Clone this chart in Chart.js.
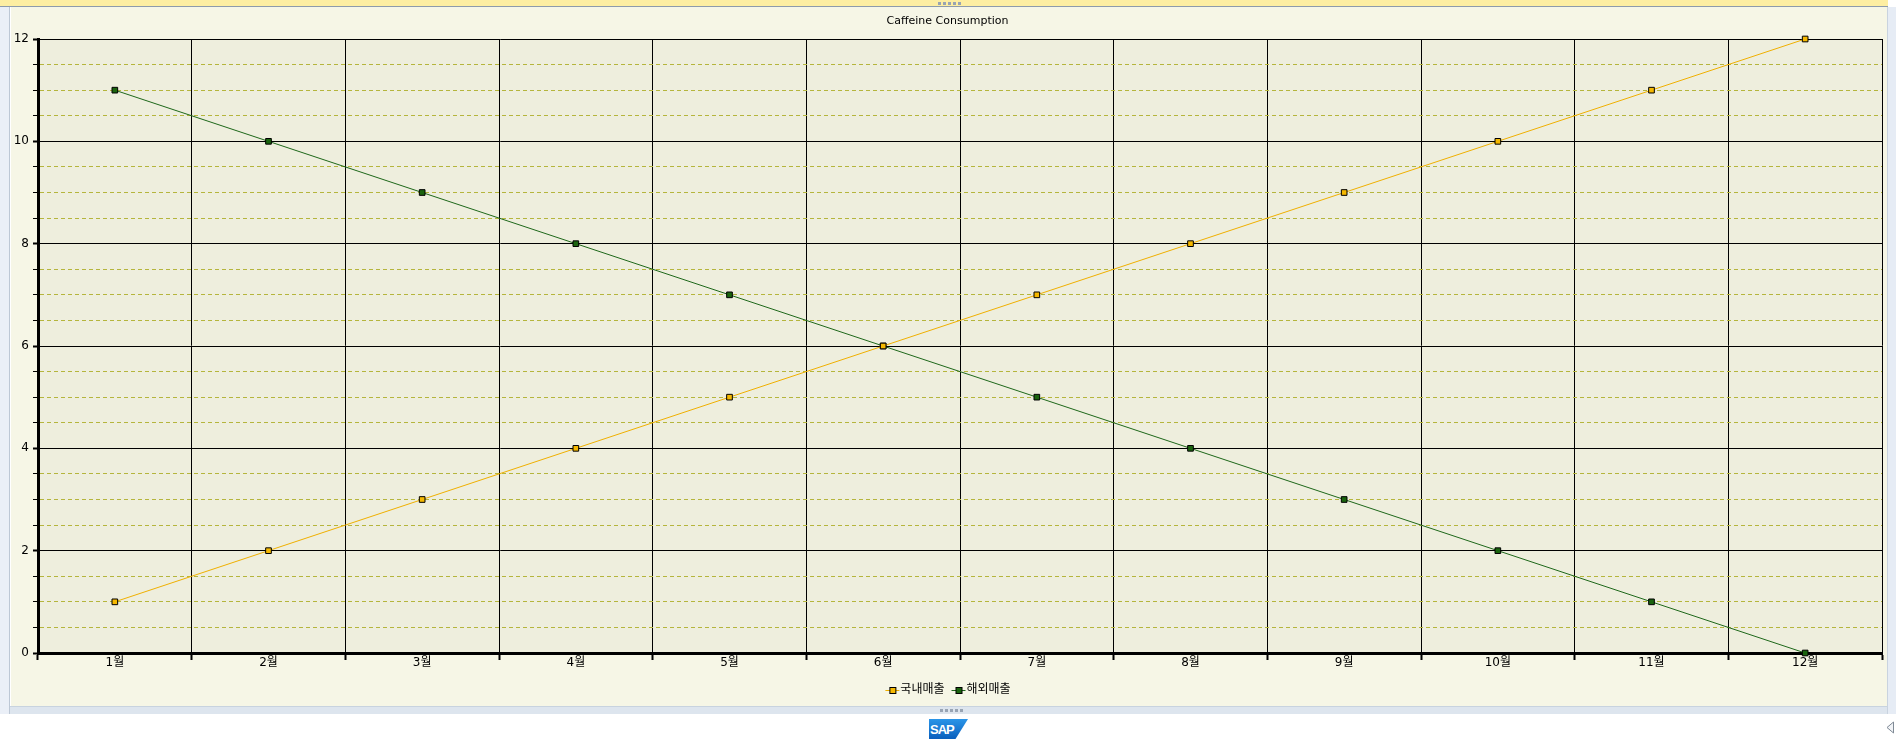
<!DOCTYPE html>
<html>
<head>
<meta charset="utf-8">
<script src="https://cdn.jsdelivr.net/npm/chart.js@4.4.0/dist/chart.umd.min.js"></script>
<style>
html,body{margin:0;padding:0;background:#fff;width:1904px;height:739px;overflow:hidden;position:relative}
#topbar{position:absolute;left:0;top:0;width:1888px;height:6px;background:#fdeea2;border-bottom:1px solid #8d9bab}
#leftbar{position:absolute;left:0;top:7px;width:9px;height:707px;background:#eaeff7;border-right:1px solid #bcc7d5}
#rightbar{position:absolute;left:1887px;top:7px;width:8px;height:707px;background:#e6ecf5;border-left:1px solid #c9d3df}
#panel{position:absolute;left:11px;top:7px;width:1876px;height:699px;background:#f6f6e6}
#bottombar{position:absolute;left:10px;top:706px;width:1877px;height:8px;background:#dde5ee;border-top:1px solid #c8d3df;box-sizing:border-box}
.grip{position:absolute;display:flex;gap:2px}
.grip span{width:3px;height:3px;background:#98a4b3}
#sap{position:absolute;left:929px;top:719px;width:39px;height:20px;background:linear-gradient(#2a95e8,#0a5fbd);clip-path:polygon(0 0,100% 0,68% 100%,0 100%);color:#fff;font:bold 13px "Liberation Sans",sans-serif;line-height:21px;padding-left:1px;box-sizing:border-box;letter-spacing:-1px}
#tri{position:absolute;left:1886px;top:721px}
</style>
</head>
<body>
<div id="topbar"></div>
<div class="grip" style="left:938px;top:2px"><span></span><span></span><span></span><span></span><span></span></div>
<div id="leftbar"></div>
<div id="rightbar"></div>
<div id="panel"><canvas id="chart" width="1876" height="699"></canvas></div>
<div id="bottombar"></div>
<div class="grip" style="left:940px;top:709px"><span></span><span></span><span></span><span></span><span></span></div>
<div id="sap">SAP</div>
<svg id="tri" width="9" height="13"><polygon points="1,6.5 7.5,1 7.5,12" fill="#f2f4f7" stroke="#7f8a96" stroke-width="1"/></svg>
<script>
const months = ['1월','2월','3월','4월','5월','6월','7월','8월','9월','10월','11월','12월'];
const seriesNames = ['국내매출','해외매출'];
const domestic = [1,2,3,4,5,6,7,8,9,10,11,12];
const overseas = [11,10,9,8,7,6,5,4,3,2,1,0];
const yMin = 0, yMax = 12, yMinorStep = 0.5, yLabelStep = 2;
const LINE = ['#f0b000','#1e681a'];
const FILL = ['#f5b800','#1a640e'];

Chart.defaults.font.family = '"DejaVu Sans", "Noto Sans CJK KR", sans-serif';
Chart.defaults.color = '#000';

function legendMark(i){
  const c=document.createElement('canvas'); c.width=30; c.height=12;
  const g=c.getContext('2d');
  g.strokeStyle=LINE[i]; g.lineWidth=1;
  g.beginPath(); g.moveTo(11,6.5); g.lineTo(25,6.5); g.stroke();
  g.fillStyle=FILL[i]; g.fillRect(16,4,5,5);
  g.strokeStyle='#000'; g.strokeRect(15.5,3.5,6,6);
  return c;
}

const plotBg = {id:'plotBg', beforeDraw(chart){
  const {ctx, chartArea:a} = chart;
  ctx.save(); ctx.fillStyle='#eeeedd';
  ctx.fillRect(a.left, a.top, a.right-a.left, a.bottom-a.top);
  ctx.restore();
}};

const isMajor = c => c.tick && c.tick.value % yLabelStep === 0;

function ds(i, data){
  return {label:seriesNames[i], data, borderColor:LINE[i], backgroundColor:FILL[i], borderWidth:1,
    pointStyle:'rect', pointRadius:4, pointHoverRadius:4, pointBorderColor:'#000', pointBorderWidth:1,
    pointBackgroundColor:FILL[i], tension:0, clip:false};
}

new Chart(document.getElementById('chart'), {
  type:'line',
  data:{labels:months, datasets:[ds(0,domestic), ds(1,overseas)]},
  options:{
    responsive:false, animation:false, devicePixelRatio:1,
    layout:{padding:{left:0,right:3,top:0,bottom:0}},
    plugins:{
      title:{display:true, text:'Caffeine Consumption', color:'#000', font:{size:11, weight:'normal'}, padding:{top:7.8,bottom:11}},
      legend:{position:'bottom', labels:{usePointStyle:true, pointStyleWidth:10, boxHeight:12, padding:6, color:'#000', font:{size:12},
        generateLabels(chart){
          return Chart.defaults.plugins.legend.labels.generateLabels(chart).map((l,i)=>Object.assign(l,{pointStyle:legendMark(i)}));
        }}},
      tooltip:{enabled:false}
    },
    scales:{
      x:{type:'category', offset:true,
        grid:{offset:true, color:'#000', lineWidth:1, tickLength:7, tickWidth:2, tickColor:'#000'},
        border:{color:'#000', width:3},
        ticks:{color:'#000', font:{size:12}, padding:-4, autoSkip:false, maxRotation:0},
        afterFit(s){ s.height = 25; }},
      y:{min:yMin, max:yMax,
        ticks:{stepSize:yMinorStep, autoSkip:false, padding:4, color:'#000', font:{size:12},
          callback:v => v % yLabelStep === 0 ? v : ''},
        grid:{color:c => isMajor(c) ? '#000' : '#b5b53c', lineWidth:1, tickLength:5, tickColor:'#000',
          tickWidth:c => isMajor(c) ? 2 : 1, tickBorderDash:[]},
        border:{color:'#000', width:3, dash:c => (c.tick && !isMajor(c)) ? [4,3] : []},
        afterFit(s){ s.width = 27; }}
    }
  },
  plugins:[plotBg]
});
</script>
</body>
</html>
